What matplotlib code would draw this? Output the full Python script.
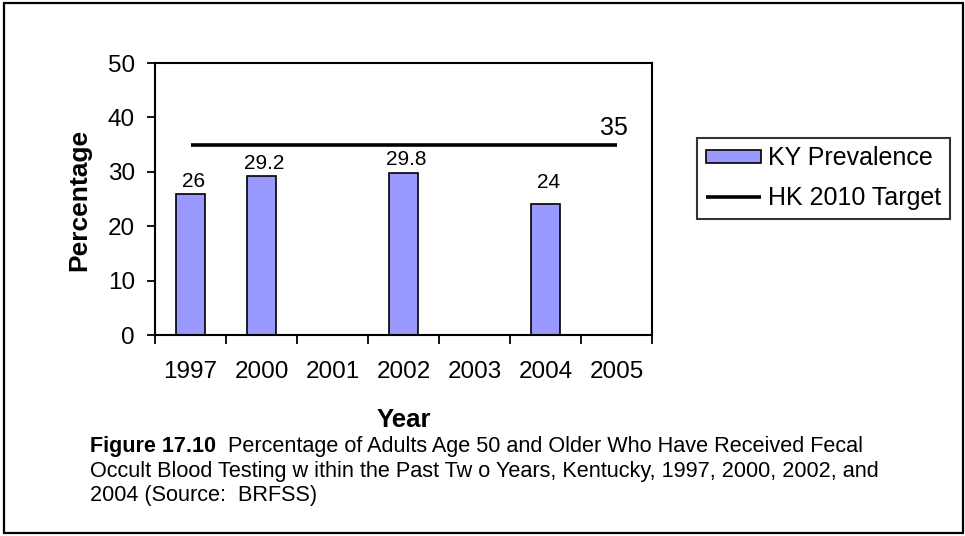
import matplotlib
matplotlib.use('Agg')
import matplotlib.pyplot as plt
from matplotlib.patches import Rectangle

# Chart values
years = ['1997', '2000', '2001', '2002', '2003', '2004', '2005']
ky_prevalence = [26, 29.2, None, 29.8, None, 24, None]
hk_target = [35, 35, 35, 35, 35, 35, 35]
target_label = '35'

caption_bold = 'Figure 17.10'
caption_lines = [
    '  Percentage of Adults Age 50 and Older Who Have Received Fecal',
    'Occult Blood Testing w ithin the Past Tw o Years, Kentucky, 1997, 2000, 2002, and',
    '2004 (Source:  BRFSS)',
]

plt.rcParams['font.family'] = ['Liberation Sans', 'DejaVu Sans']

W, H = 965, 536


def fx(x):
    return x / W


def fy(y):
    return 1 - y / H


fig = plt.figure(figsize=(W / 100, H / 100), dpi=100)

# plot area
ax = fig.add_axes([fx(155), fy(335), (652 - 155) / W, (335 - 63) / H])

xs = list(range(len(years)))
bar_x = [i for i, v in zip(xs, ky_prevalence) if v is not None]
bar_v = [v for v in ky_prevalence if v is not None]

bars = ax.bar(bar_x, bar_v, width=0.4, color='#9999FF', edgecolor='black',
              linewidth=1.2, label='KY Prevalence', zorder=2)
line, = ax.plot(xs, hk_target, color='black', linewidth=2.6,
                label='HK 2010 Target', zorder=3, solid_capstyle='butt')

# data labels (lift above the bar top, in points)
label_lift = [5, 5, 6, 12]
for bx, bv, lift in zip(bar_x, bar_v, label_lift):
    ax.annotate(f'{bv:g}', (bx, bv), xytext=(2, lift), textcoords='offset points',
                ha='center', va='baseline', fontsize=15)
ax.annotate(target_label, (xs[-1], hk_target[-1]), xytext=(-2, 7),
            textcoords='offset points', ha='center', va='baseline', fontsize=18)

ax.set_xlim(-0.5, len(years) - 0.5)
ax.set_ylim(0, 50)
ax.set_yticks(range(0, 51, 10))
ax.set_xticks(xs)
ax.set_xticklabels(years)
ax.set_xticks([i - 0.5 for i in range(len(years) + 1)], minor=True)

ax.tick_params(axis='x', which='major', length=0, pad=18.5, labelsize=17.5)
ax.tick_params(axis='x', which='minor', length=6.5, width=1.3, direction='out')
ax.tick_params(axis='y', which='major', length=6, width=1.3, direction='out',
               pad=8.5, labelsize=17.5)

for sp in ax.spines.values():
    sp.set_linewidth(1.5)
    sp.set_color('black')

# axis titles
fig.text(fx(79), fy(200), 'Percentage', rotation=90, ha='center', va='center',
         fontsize=19, fontweight='bold')
fig.text(fx(403.5), fy(426.7), 'Year', ha='center', va='baseline',
         fontsize=18.5, fontweight='bold')

# legend
leg = fig.legend(handles=[bars, line], loc='center',
                 bbox_to_anchor=(fx(823.5), fy(178)), fontsize=18,
                 frameon=True, fancybox=False, edgecolor='black',
                 handlelength=2.2, handleheight=0.45, handletextpad=0.3,
                 labelspacing=0.62, borderpad=0.35, borderaxespad=0)
leg.get_frame().set_linewidth(1.5)

# caption
renderer = fig.canvas.get_renderer()
t_bold = fig.text(fx(90), fy(452), caption_bold, ha='left', va='baseline',
                  fontsize=15.5, fontweight='bold')
bb = t_bold.get_window_extent(renderer=renderer)
fig.text(bb.x1 / W, fy(452), caption_lines[0], ha='left', va='baseline',
         fontsize=15.6)
fig.text(fx(90), fy(476.5), caption_lines[1], ha='left', va='baseline', fontsize=15.6)
fig.text(fx(90), fy(501), caption_lines[2], ha='left', va='baseline', fontsize=15.6)

# outer frame
fig.add_artist(Rectangle((fx(4), fy(532.5)), (962.7 - 4) / W, (532.5 - 3) / H,
                         transform=fig.transFigure, fill=False,
                         edgecolor='black', linewidth=1.6))

fig.savefig('out.png', dpi=100)
